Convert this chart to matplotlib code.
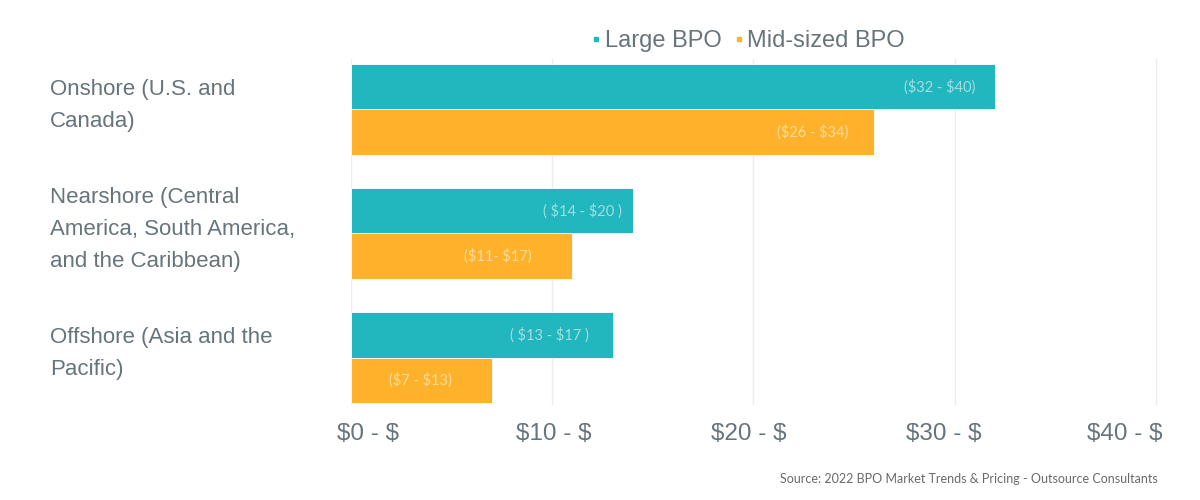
import matplotlib
matplotlib.use("Agg")
import matplotlib.pyplot as plt
import matplotlib.transforms as mtransforms
from matplotlib.lines import Line2D
import numpy as np

categories = ["Onshore (U.S. and\nCanada)",
              "Nearshore (Central\nAmerica, South America,\nand the Caribbean)",
              "Offshore (Asia and the\nPacific)"]
series_names = ["Large BPO", "Mid-sized BPO"]
large_vals = [32, 14, 13]
mid_vals = [26, 11, 7]
large_labels = ["($32 - $40)", "( $14 - $20 )", "( $13 - $17 )"]
mid_labels = ["($26 - $34)", "($11- $17)", "($7 - $13)"]
xticks = [0, 10, 20, 30, 40]
xtick_labels = ["$0 - $", "$10 - $", "$20 - $", "$30 - $", "$40 - $"]
source = "Source: 2022 BPO Market Trends & Pricing - Outsource Consultants"

TEAL = "#22b7bf"
ORANGE = "#feb22b"
GRAY = "#66747c"


def esc(s):
    return s.replace("$", r"\$")


fig = plt.figure(figsize=(12, 5), dpi=100)
ax = fig.add_axes([351/1200, 1-405/500, 807/1200, 346/500])

y = np.arange(len(categories))
h = 0.365
b1 = ax.barh(y - h/2, large_vals, height=h, color=TEAL, edgecolor="white", linewidth=0.6, zorder=3)
b2 = ax.barh(y + h/2, mid_vals, height=h, color=ORANGE, edgecolor="white", linewidth=0.6, zorder=3)

ax.set_xlim(0, 40.1)
ax.set_ylim(2.383, -0.407)
ax.set_xticks(xticks)
ax.set_xticklabels([esc(s) for s in xtick_labels], fontsize=17.5, color=GRAY,
                   family=["Liberation Sans Narrow", "Liberation Sans", "DejaVu Sans"])
ax.tick_params(axis="x", length=0, pad=13)
label_shift = [17, 2, -5, -11, -31]
for lab, dx in zip(ax.get_xticklabels(), label_shift):
    lab.set_transform(lab.get_transform() + mtransforms.ScaledTranslation(dx/100, 0, fig.dpi_scale_trans))
ax.set_yticks([])
for s in ax.spines.values():
    s.set_visible(False)
ax.grid(axis="x", color="#ececec", linewidth=1, zorder=0)
ax.set_axisbelow(True)

# category labels
trans = mtransforms.blended_transform_factory(fig.transFigure, ax.transData)
for yi, cat in zip(y, categories):
    ax.text(50/1200, yi - 0.03, cat, transform=trans, ha="left", va="center",
            fontsize=16, color=GRAY, family="Liberation Sans", linespacing=1.7)

# bar labels
pads_l = [20, 11, 24]
pads_m = [26, 41, 40]
for bars, labels, pads, col in [(b1, large_labels, pads_l, "#a3dde0"), (b2, mid_labels, pads_m, "#ffdc99")]:
    for rect, lab, p in zip(bars, labels, pads):
        t = mtransforms.offset_copy(ax.transData, fig=fig, x=-p, y=0, units="dots")
        ax.text(rect.get_width(), rect.get_y() + rect.get_height()/2, esc(lab), transform=t,
                ha="right", va="center", fontsize=10.5, color=col, family="Lato", zorder=4)

# legend
handles = [Line2D([], [], marker="s", linestyle="none", markersize=2.5, color=TEAL),
           Line2D([], [], marker="s", linestyle="none", markersize=2.5, color=ORANGE)]
leg = fig.legend(handles, series_names, loc="center", bbox_to_anchor=(749/1200, 1-41/500),
                 ncol=2, frameon=False, handlelength=0.3, handletextpad=0.2, columnspacing=0.6,
                 prop={"family": "Liberation Sans", "size": 17})
for t in leg.get_texts():
    t.set_color(GRAY)

fig.text(1158/1200, 1-479/500, source, ha="right", va="center", fontsize=9, color="#6a6a6a", family="Lato")

fig.savefig("out.png", dpi=100)
